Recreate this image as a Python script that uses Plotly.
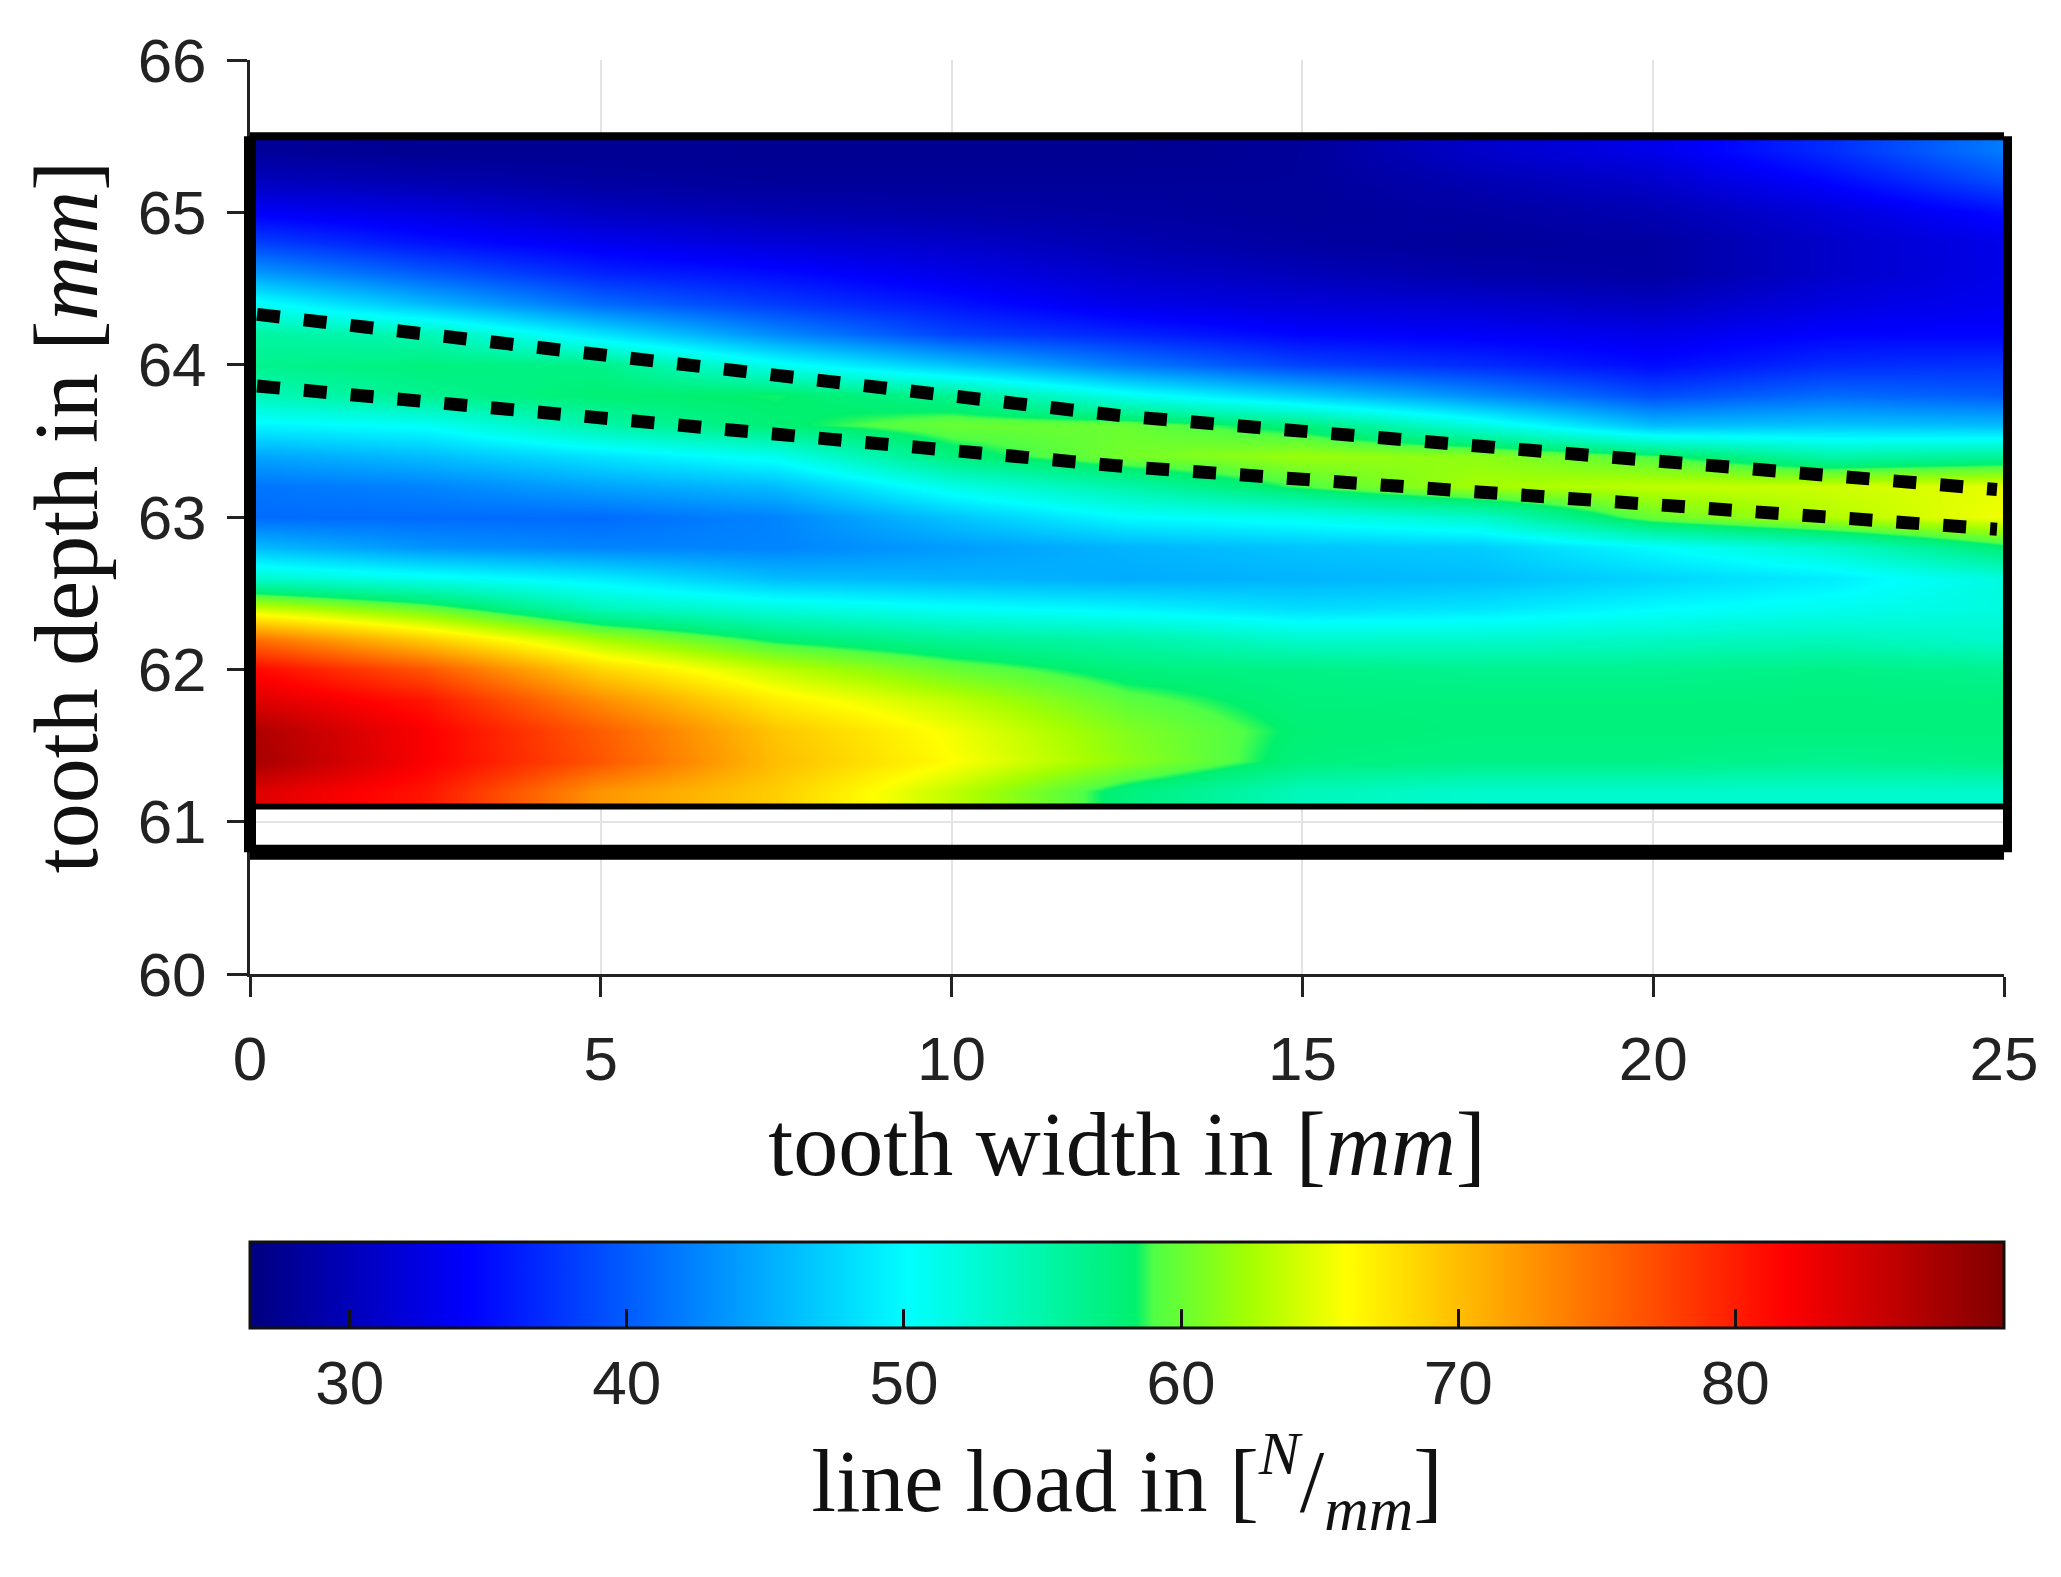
import plotly.graph_objects as go

# ---------------- data ----------------
# grid columns (tooth width, mm) and rows (tooth depth, mm, top -> bottom)
x_width = [0, 2.5, 5, 7.5, 10, 12.5, 15, 17.5, 20, 22.5, 25]
y_depth = [65.4, 65.2, 65.0, 64.8, 64.6, 64.4, 64.2, 64.0, 63.8, 63.6, 63.4,
           63.2, 63.0, 62.8, 62.6, 62.4, 62.2, 62.0, 61.8, 61.6, 61.4, 61.2]

# line load values, one list per tooth-width column (top -> bottom)
load_x00_0 = [28, 30.5, 34, 38.5, 44, 51, 55.5, 56.5, 54, 49.5, 44.5, 41.5, 41, 46, 53, 64, 75, 81.5, 84, 87, 87.5, 84]
load_x02_5 = [27.5, 29.5, 32.5, 35.5, 40, 46, 54.5, 57.5, 56.5, 50.5, 46, 42.5, 41, 43.5, 51, 60, 69, 76.5, 80.5, 82, 82, 80.5]
load_x05_0 = [27.5, 28.5, 30.5, 33.5, 36.5, 41, 48.5, 57, 58, 55, 48.5, 44.5, 41, 42.5, 49, 54, 62.5, 68.5, 73, 76, 76.5, 72.5]
load_x07_5 = [27.5, 28, 29.5, 32, 35, 38, 43, 51, 58.5, 58, 51, 46, 42.5, 42.5, 46, 52, 58, 63.5, 67, 69.5, 70, 69]
load_x10_0 = [27.5, 28, 29, 31, 33, 35.5, 38.5, 46.5, 56.5, 60, 57.5, 51.5, 46.5, 44, 45.5, 50.5, 56, 60, 63.5, 65.5, 66, 63.5]
load_x12_5 = [27.5, 28, 28.5, 29.5, 31, 33, 36.5, 42, 51, 60, 60.5, 55, 50, 45.5, 45, 49.5, 55, 57.5, 59.5, 61, 61.5, 57.5]
load_x15_0 = [28, 28, 28, 28.5, 30, 32, 34.5, 38.5, 47, 57.5, 62, 59, 51, 46.5, 45.5, 48, 53, 57, 57.5, 58, 57.5, 54]
load_x17_5 = [31, 29.5, 28.5, 28, 29, 31.5, 34, 37, 43, 52, 61.5, 62.5, 53, 47, 46, 48.5, 53, 56.5, 57.5, 57.5, 57, 53]
load_x20_0 = [33, 31, 29.5, 28.5, 28.5, 30.5, 33, 35, 39, 46, 59, 63.5, 60, 50, 47.5, 50, 53.5, 56.5, 57.5, 57.5, 57, 53]
load_x22_5 = [37, 34.5, 32, 31, 31, 32.5, 34.5, 37, 41, 46.5, 55, 64, 63, 53, 49, 51, 54, 57, 57.5, 57.5, 56.5, 53]
load_x25_0 = [42, 39, 35, 33, 33, 33.5, 34.5, 37.5, 40, 46, 56, 65, 65.5, 58, 52, 52, 53, 56.5, 57.5, 57.5, 57, 53]

# dashed contact-line boundaries
upper_line_x = [0.1, 12.5, 24.9]
upper_line_y = [64.33, 63.66, 63.18]
lower_line_x = [0.1, 12.5, 24.9]
lower_line_y = [63.86, 63.33, 62.92]

# frame around the evaluated area (mm)
frame_x = [0, 25]
frame_top, frame_inner, frame_bottom = 65.5, 61.1, 60.8

x_ticks = [0, 5, 10, 15, 20, 25]
y_ticks = [60, 61, 62, 63, 64, 65, 66]
cbar_ticks = [30, 40, 50, 60, 70, 80]
c_min, c_max = 26.4, 89.7
x_range = [0, 25]
y_range = [60, 66]

# ---------------- figure ----------------
columns = [load_x00_0, load_x02_5, load_x05_0, load_x07_5, load_x10_0, load_x12_5,
           load_x15_0, load_x17_5, load_x20_0, load_x22_5, load_x25_0]
z_rows = [list(r) for r in zip(*columns)]          # rows top -> bottom
z_rows = z_rows[::-1]
y_rows = y_depth[::-1]

jet = [
    [0.0, 'rgb(0,0,128)'],
    [0.125, 'rgb(0,0,255)'],
    [0.375, 'rgb(0,255,255)'],
    [0.505, 'rgb(0,240,110)'],
    [0.515, 'rgb(80,255,70)'],
    [0.57, 'rgb(165,255,0)'],
    [0.625, 'rgb(255,255,0)'],
    [0.875, 'rgb(255,0,0)'],
    [1.0, 'rgb(128,0,0)'],
]

TICKFONT = dict(family='Liberation Sans, Arial, sans-serif', size=62, color='#222222')
SERIF = 'Liberation Serif, Times New Roman, serif'

fig = go.Figure()
fig.add_trace(go.Heatmap(
    x=x_width, y=y_rows, z=z_rows,
    zmin=c_min, zmax=c_max, zsmooth='best',
    colorscale=jet, showscale=True,
    colorbar=dict(
        orientation='h', x=0.5, xanchor='center', y=-0.2932, yanchor='top',
        len=1, lenmode='fraction', thickness=86, xpad=0, ypad=0,
        outlinecolor='#111111', outlinewidth=3,
        ticks='inside', ticklen=20, tickwidth=3, tickcolor='#111111',
        tickvals=cbar_ticks, tickfont=TICKFONT,
        title=dict(text='line load in [<sup><i>N</i></sup>/<sub><i>mm</i></sub>]',
                   side='bottom', font=dict(family=SERIF, size=88, color='#111111')),
    ),
    hoverinfo='skip',
))

for lx, ly in [(upper_line_x, upper_line_y), (lower_line_x, lower_line_y)]:
    fig.add_trace(go.Scatter(x=lx, y=ly, mode='lines', showlegend=False,
                             line=dict(color='black', width=13, dash='23px,24px'),
                             hoverinfo='skip'))

def ypaper(v):
    return (v - y_range[0]) / (y_range[1] - y_range[0])

shapes = []
# horizontal frame lines (data coordinates)
for yv, w in [(frame_top, 8), (frame_inner, 6), (frame_bottom, 15)]:
    shapes.append(dict(type='line', xref='x', yref='y', x0=frame_x[0], x1=frame_x[1],
                       y0=yv, y1=yv, line=dict(color='black', width=w), layer='above'))
# vertical frame lines (paper coordinates so they are not clipped)
shapes.append(dict(type='line', xref='paper', yref='paper', x0=0, x1=0,
                   y0=ypaper(frame_bottom), y1=ypaper(frame_top),
                   line=dict(color='black', width=12), layer='above'))
shapes.append(dict(type='line', xref='paper', yref='paper', x0=1.002, x1=1.002,
                   y0=ypaper(frame_bottom), y1=ypaper(frame_top),
                   line=dict(color='black', width=9), layer='above'))

# the page body adds an 8px margin, so the figure is 16px smaller than the window
fig.update_layout(
    width=2053, height=1569,
    margin=dict(l=242, r=57, t=52, b=603),
    paper_bgcolor='white', plot_bgcolor='white',
    shapes=shapes,
    showlegend=False,
    xaxis=dict(range=x_range, tickvals=x_ticks, showgrid=True, gridcolor='#e3e3e3',
               gridwidth=2, zeroline=False, showline=True, linecolor='#222222',
               linewidth=3, ticks='outside', ticklen=20, tickwidth=3,
               tickcolor='#222222', tickfont=TICKFONT, ticklabelstandoff=9,
               title=dict(text='tooth width in [<i>mm</i>]', standoff=20,
                          font=dict(family=SERIF, size=90, color='#111111'))),
    yaxis=dict(range=y_range, tickvals=y_ticks, showgrid=True, gridcolor='#e3e3e3',
               gridwidth=2, zeroline=False, showline=True, linecolor='#222222',
               linewidth=3, ticks='outside', ticklen=20, tickwidth=3,
               tickcolor='#222222', tickfont=TICKFONT, ticklabelstandoff=8,
               title=dict(text='tooth depth in [<i>mm</i>]', standoff=11,
                          font=dict(family=SERIF, size=90, color='#111111'))),
)

fig.write_html('out.html')
